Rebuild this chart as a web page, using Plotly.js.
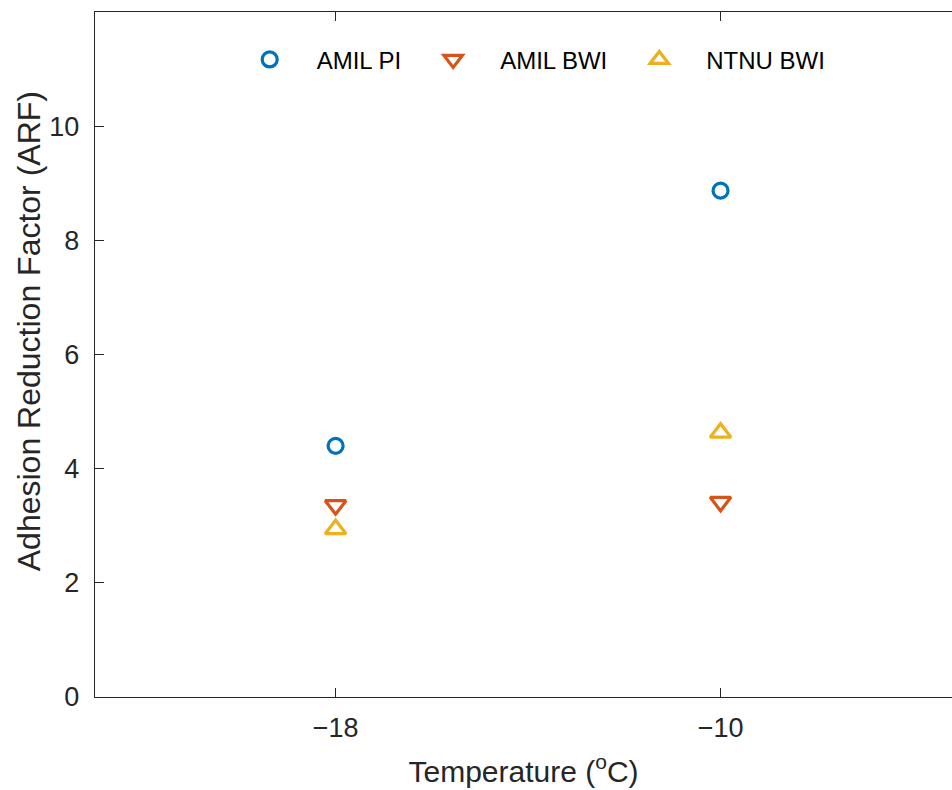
<!DOCTYPE html>
<html>
<head>
<meta charset="utf-8">
<script src="https://cdn.plot.ly/plotly-3.0.1.min.js"></script>
<style>html,body{margin:0;padding:0;background:#fff;}#chart{width:952px;height:790px;}</style>
</head>
<body>
<div id="chart"></div>
<script>
const temperatures = [-18, -10];
const amilPI = [4.4, 8.87];
const amilBWI = [3.36, 3.42];
const ntnuBWI = [2.94, 4.63];
const seriesNames = ["AMIL PI", "AMIL BWI", "NTNU BWI"];
const xTickVals = [-18, -10];
const yTickVals = [0, 2, 4, 6, 8, 10];
const xTitle = "Temperature (<sup>o</sup>C)";
const yTitle = "Adhesion Reduction Factor (ARF)";

const font = "Liberation Sans, Arial, Helvetica, sans-serif";
const axisColor = "#262626";
const fmt = v => (v < 0 ? "\u2212" + Math.abs(v) : String(v));

const traces = [
  {x: temperatures, y: amilPI, name: seriesNames[0], mode: "markers", type: "scatter",
   marker: {symbol: "circle-open", size: 15, color: "#0072BD", line: {width: 3.2, color: "#0072BD"}}},
  {x: temperatures, y: amilBWI, name: seriesNames[1], mode: "markers", type: "scatter",
   marker: {symbol: "triangle-down-open", size: 18, color: "#D95319", line: {width: 3.2, color: "#D95319"}}},
  {x: temperatures, y: ntnuBWI, name: seriesNames[2], mode: "markers", type: "scatter",
   marker: {symbol: "triangle-up-open", size: 18, color: "#EDB120", line: {width: 3.2, color: "#EDB120"}}}
];

const layout = {
  width: 952, height: 790,
  margin: {l: 95, r: 0, t: 12, b: 93},
  paper_bgcolor: "#fff", plot_bgcolor: "#fff",
  font: {family: font, color: axisColor},
  showlegend: true,
  legend: {orientation: "h", x: 0.149, xanchor: "left", y: 0.963, yanchor: "top",
           font: {size: 24, color: "#000"}, bgcolor: "rgba(0,0,0,0)", itemwidth: 84},
  xaxis: {range: [-23, -5.19], tickvals: xTickVals, ticktext: xTickVals.map(fmt),
          ticks: "inside", ticklen: 9, tickwidth: 1, tickcolor: axisColor,
          showline: true, linecolor: axisColor, linewidth: 1.3, mirror: "ticks",
          showgrid: false, zeroline: false, tickfont: {size: 27, color: axisColor},
          ticklabelstandoff: 6,
          title: {text: xTitle, font: {size: 30, color: axisColor}, standoff: 19}},
  yaxis: {range: [0, 12], tickvals: yTickVals, ticktext: yTickVals.map(fmt),
          ticks: "inside", ticklen: 9, tickwidth: 1, tickcolor: axisColor,
          showline: true, linecolor: axisColor, linewidth: 1.3, mirror: false,
          showgrid: false, zeroline: false, tickfont: {size: 27, color: axisColor},
          ticklabelstandoff: 9},
  annotations: [
    {text: yTitle, textangle: -90, xref: "paper", yref: "paper",
     x: -0.077, y: 0.534, xanchor: "center", yanchor: "middle", showarrow: false,
     font: {size: 32, color: axisColor}}
  ]
};

Plotly.newPlot("chart", traces, layout, {displayModeBar: false, staticPlot: true});
</script>
</body>
</html>
